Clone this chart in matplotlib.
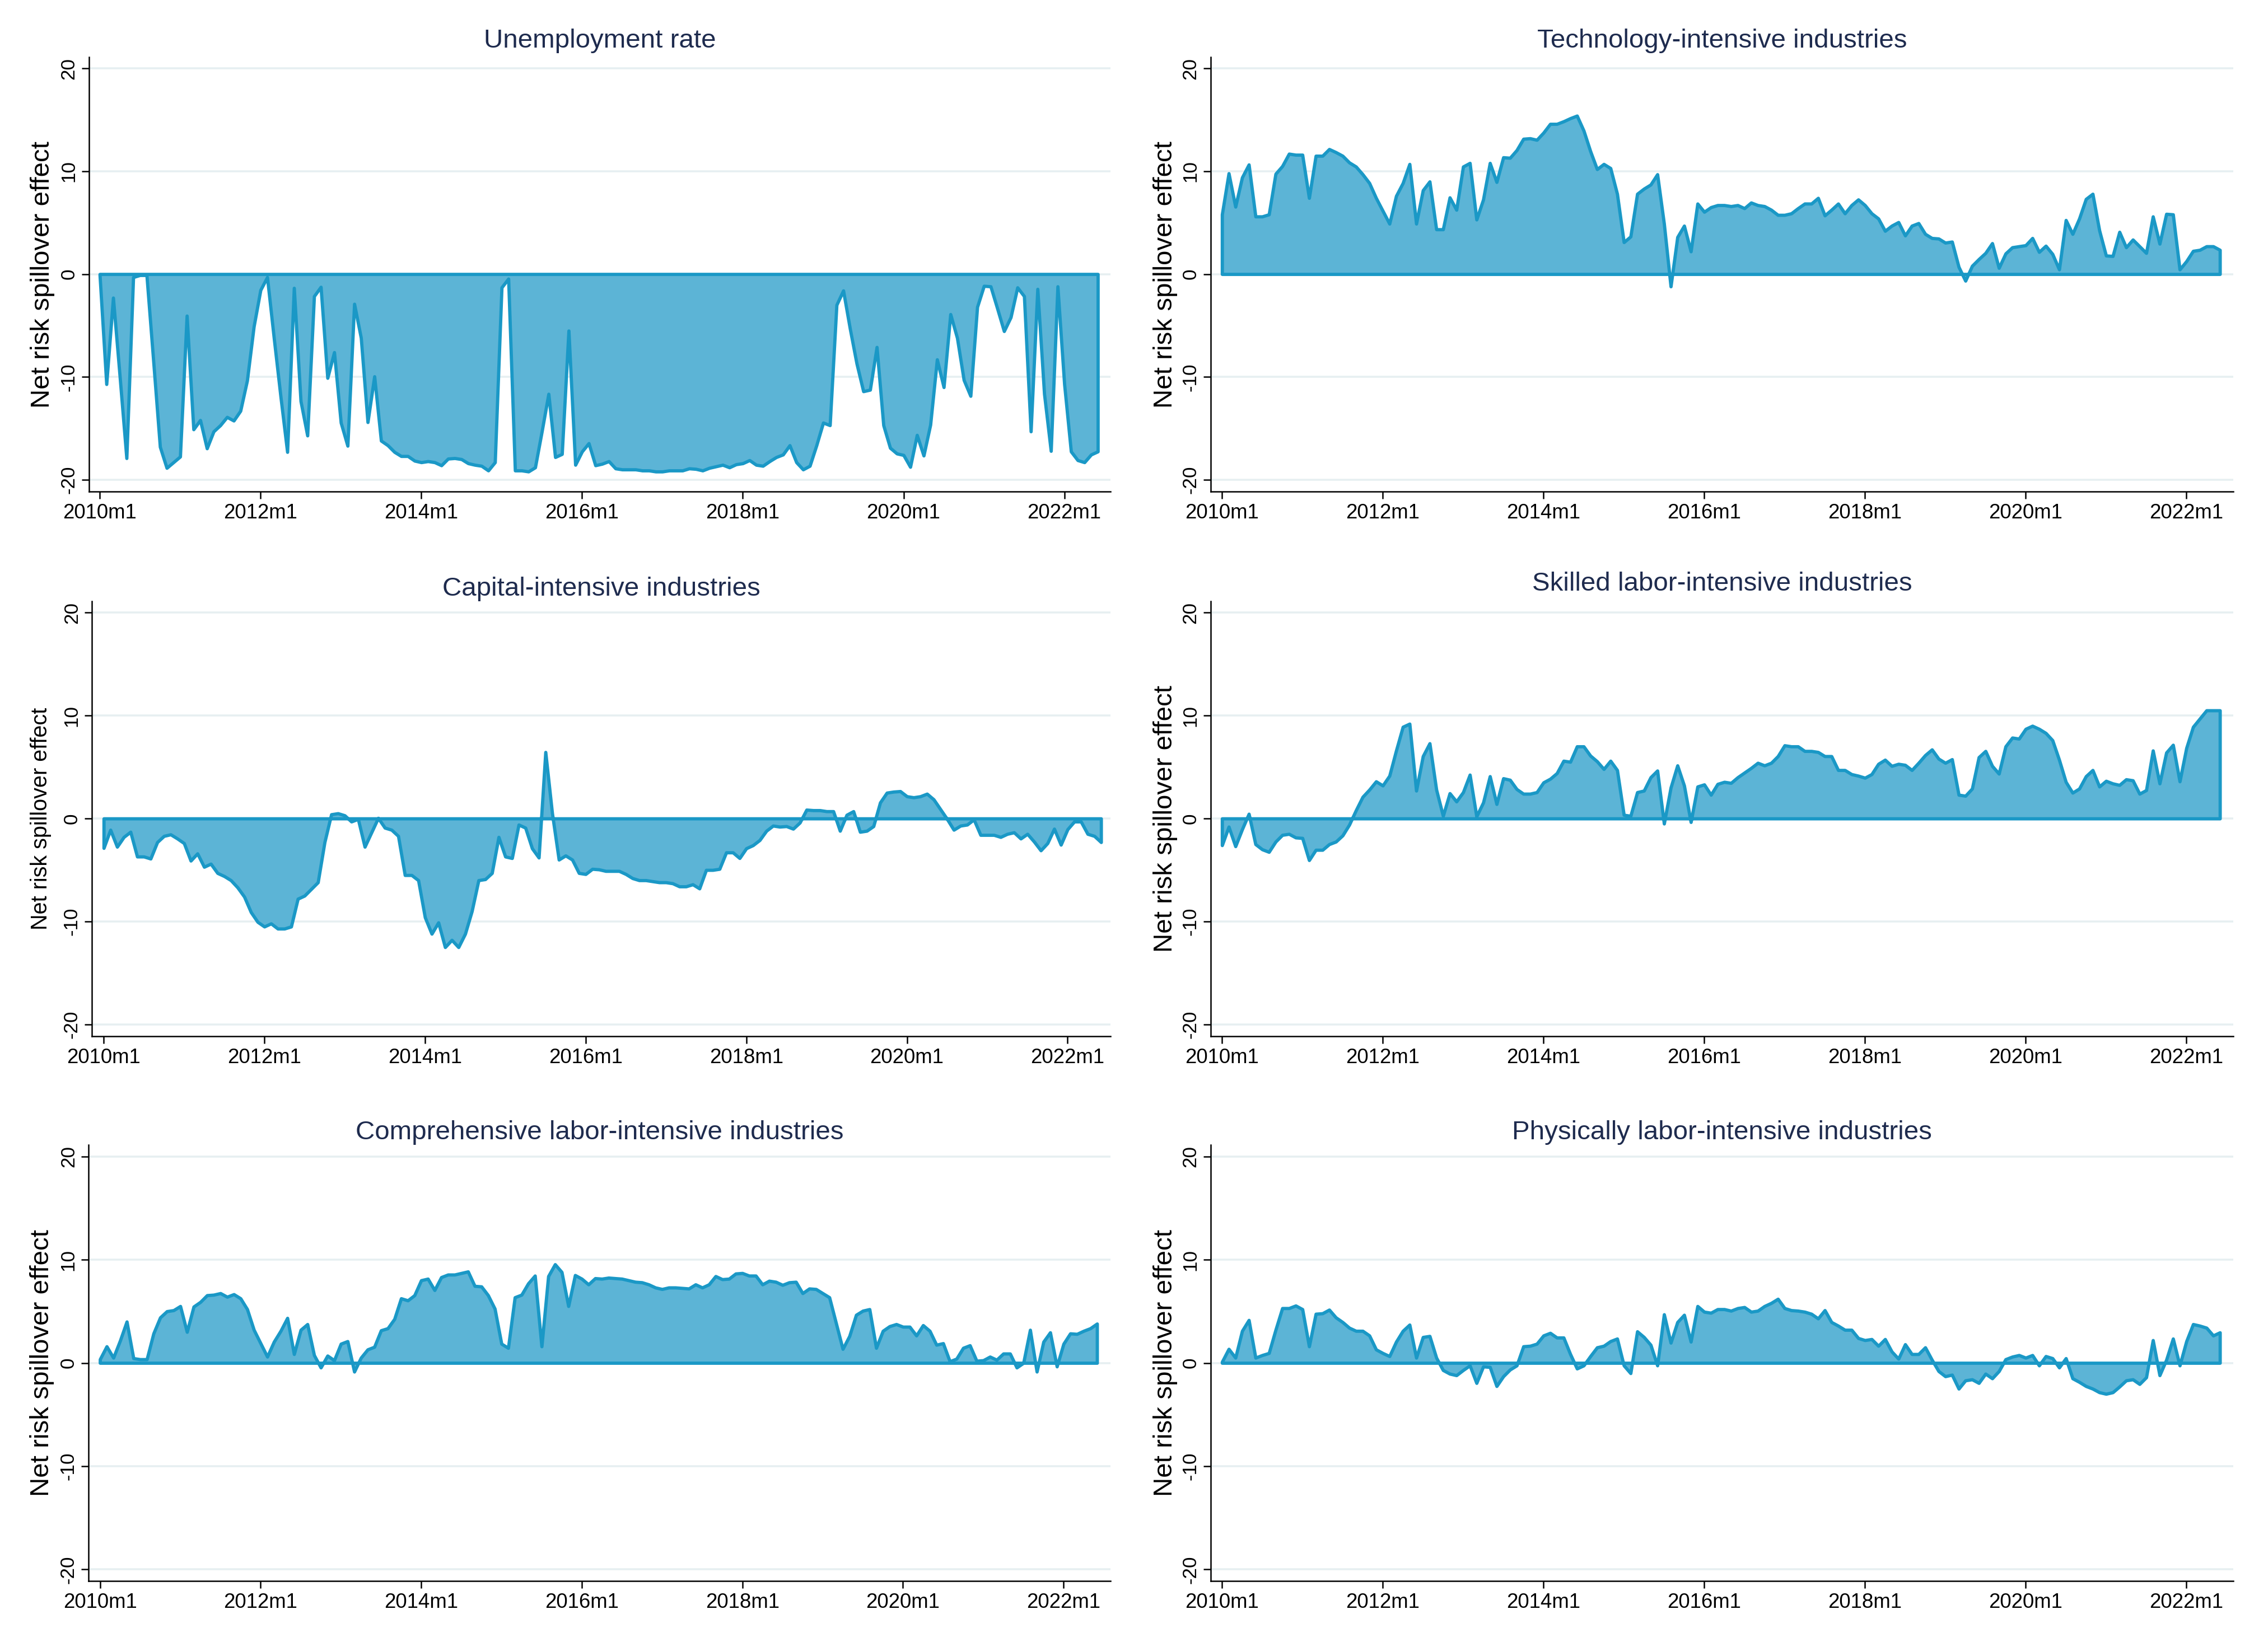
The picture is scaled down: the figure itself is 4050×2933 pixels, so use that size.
import matplotlib
matplotlib.use("Agg")
import matplotlib.pyplot as plt
import numpy as np

plt.rcParams['font.family'] = ['Liberation Sans', 'DejaVu Sans']

# ---------------- data (monthly, 2010m1 .. 2022m6) ----------------
tick_labels = ["2010m1", "2012m1", "2014m1", "2016m1", "2018m1", "2020m1", "2022m1"]
tick_pos = [0, 24, 48, 72, 96, 120, 144]
yticks = [-20, -10, 0, 10, 20]

titles = ["Unemployment rate",
          "Technology-intensive industries",
          "Capital-intensive industries",
          "Skilled labor-intensive industries",
          "Comprehensive labor-intensive industries",
          "Physically labor-intensive industries"]

unemployment = [
    -0.1, -10.7, -2.3, -10.0, -17.9, -0.3, -0.1, -0.1, -8.4, -16.8,
    -18.85, -18.3, -17.75, -4.05, -15.1, -14.2, -16.95, -15.3, -14.7, -13.9,
    -14.25, -13.3, -10.35, -5.1, -1.55, -0.3, -6.2, -11.9, -17.3, -1.35,
    -12.35, -15.7, -2.15, -1.25, -10.1, -7.6, -14.45, -16.7, -2.9, -6.2,
    -14.4, -9.95, -16.2, -16.65, -17.3, -17.7, -17.7, -18.15, -18.3, -18.2,
    -18.3, -18.6, -17.95, -17.9, -18.0, -18.4, -18.55, -18.65, -19.1, -18.3,
    -1.3, -0.45, -19.1, -19.1, -19.2, -18.8, -15.3, -11.65, -17.8, -17.5,
    -5.5, -18.55, -17.25, -16.45, -18.6, -18.45, -18.2, -18.9, -19.0, -19.0,
    -19.0, -19.1, -19.1, -19.2, -19.2, -19.1, -19.1, -19.1, -18.9, -18.95,
    -19.1, -18.85, -18.7, -18.55, -18.8, -18.5, -18.4, -18.1, -18.55, -18.65,
    -18.2, -17.8, -17.55, -16.65, -18.3, -19.0, -18.65, -16.65, -14.45, -14.7,
    -3.0, -1.6, -5.3, -8.7, -11.4, -11.25, -7.1, -14.7, -16.9, -17.45,
    -17.6, -18.75, -15.65, -17.65, -14.65, -8.3, -11.0, -3.9, -6.2, -10.3,
    -11.85, -3.2, -1.15, -1.2, -3.35, -5.55, -4.2, -1.3, -2.15, -15.3,
    -1.45, -11.65, -17.2, -1.2, -10.7, -17.25, -18.1, -18.3, -17.55, -17.25]

technology = [
    5.8, 9.8, 6.55, 9.4, 10.65, 5.6, 5.6, 5.8, 9.75, 10.5,
    11.7, 11.6, 11.6, 7.4, 11.5, 11.5, 12.15, 11.85, 11.5, 10.85,
    10.45, 9.7, 8.85, 7.4, 6.15, 4.9, 7.6, 8.85, 10.7, 4.9,
    8.15, 9.0, 4.35, 4.35, 7.45, 6.25, 10.45, 10.8, 5.3, 7.25,
    10.8, 8.95, 11.35, 11.3, 12.05, 13.15, 13.2, 13.05, 13.75, 14.6,
    14.6, 14.85, 15.15, 15.4, 13.95, 11.95, 10.2, 10.7, 10.3, 7.8,
    3.1, 3.65, 7.8, 8.3, 8.7, 9.7, 4.9, -1.2, 3.6, 4.7,
    2.2, 6.85, 6.05, 6.5, 6.7, 6.7, 6.6, 6.7, 6.4, 6.95,
    6.7, 6.6, 6.25, 5.75, 5.75, 5.9, 6.4, 6.85, 6.85, 7.4,
    5.7, 6.25, 6.85, 5.9, 6.7, 7.25, 6.7, 5.9, 5.4, 4.2,
    4.7, 5.05, 3.75, 4.7, 4.95, 3.9, 3.5, 3.45, 3.05, 3.15,
    0.7, -0.65, 0.8, 1.45, 2.05, 3.0, 0.6, 2.0, 2.6, 2.7,
    2.8, 3.5, 2.15, 2.75, 1.95, 0.45, 5.25, 3.9, 5.4, 7.3,
    7.8, 4.25, 1.8, 1.75, 4.1, 2.6, 3.35, 2.7, 2.05, 5.6,
    2.95, 5.85, 5.8, 0.45, 1.25, 2.25, 2.35, 2.7, 2.7, 2.35]

capital = [
    -2.87, -1.1, -2.75, -1.8, -1.3, -3.7, -3.7, -3.9, -2.3, -1.7,
    -1.55, -1.95, -2.4, -4.1, -3.4, -4.7, -4.4, -5.3, -5.6, -6.0,
    -6.7, -7.6, -9.1, -10.05, -10.5, -10.2, -10.7, -10.7, -10.5, -7.8,
    -7.5, -6.85, -6.2, -2.3, 0.4, 0.5, 0.3, -0.3, -0.05, -2.75,
    -1.35, 0.05, -0.9, -1.1, -1.7, -5.5, -5.5, -6.0, -9.6, -11.2,
    -10.1, -12.5, -11.8, -12.5, -11.2, -9.0, -6.0, -5.9, -5.3, -1.8,
    -3.7, -3.85, -0.6, -0.9, -2.9, -3.8, 6.45, 0.5, -4.0, -3.6,
    -4.0, -5.3, -5.4, -4.9, -4.95, -5.1, -5.1, -5.1, -5.4, -5.8,
    -6.0, -6.0, -6.1, -6.2, -6.2, -6.3, -6.6, -6.6, -6.4, -6.8,
    -5.0, -5.0, -4.9, -3.3, -3.3, -3.85, -2.9, -2.6, -2.1, -1.2,
    -0.7, -0.8, -0.75, -1.0, -0.4, 0.85, 0.8, 0.8, 0.7, 0.7,
    -1.2, 0.35, 0.7, -1.3, -1.2, -0.75, 1.55, 2.5, 2.6, 2.65,
    2.15, 2.05, 2.15, 2.4, 1.85, 0.9, -0.05, -1.1, -0.7, -0.6,
    -0.1, -1.6, -1.6, -1.6, -1.8, -1.5, -1.35, -1.95, -1.5, -2.25,
    -3.1, -2.4, -1.0, -2.55, -1.05, -0.3, -0.3, -1.5, -1.7, -2.3]

skilled = [
    -2.6, -0.8, -2.7, -1.05, 0.45, -2.5, -3.0, -3.25, -2.25, -1.6,
    -1.5, -1.85, -1.9, -4.05, -3.05, -3.05, -2.5, -2.25, -1.65, -0.6,
    0.8, 2.1, 2.8, 3.6, 3.2, 4.15, 6.6, 8.9, 9.2, 2.7,
    6.05, 7.3, 2.8, 0.25, 2.45, 1.65, 2.55, 4.25, 0.2, 1.55,
    4.1, 1.4, 3.9, 3.75, 2.85, 2.4, 2.4, 2.55, 3.5, 3.85,
    4.4, 5.6, 5.5, 7.0, 7.0, 6.1, 5.55, 4.8, 5.6, 4.7,
    0.35, 0.25, 2.55, 2.7, 4.0, 4.65, -0.5, 3.0, 5.15, 3.2,
    -0.35, 3.1, 3.3, 2.3, 3.35, 3.55, 3.45, 4.0, 4.45, 4.9,
    5.4, 5.15, 5.4, 6.05, 7.1, 7.0, 7.0, 6.55, 6.55, 6.45,
    6.05, 6.05, 4.7, 4.7, 4.3, 4.15, 3.95, 4.3, 5.3, 5.7,
    5.1, 5.3, 5.2, 4.7, 5.4, 6.15, 6.7, 5.8, 5.4, 5.75,
    2.3, 2.2, 2.9, 5.95, 6.55, 5.1, 4.35, 7.0, 7.85, 7.75,
    8.7, 9.0, 8.7, 8.3, 7.6, 5.7, 3.55, 2.5, 2.9, 4.1,
    4.7, 3.1, 3.65, 3.4, 3.25, 3.8, 3.7, 2.4, 2.75, 6.6,
    3.4, 6.4, 7.15, 3.6, 6.85, 8.9, 9.7, 10.5, 10.5, 10.5]

comprehensive = [
    0.35, 1.6, 0.5, 2.15, 4.0, 0.45, 0.35, 0.35, 2.85, 4.4,
    5.0, 5.1, 5.5, 3.0, 5.45, 5.9, 6.55, 6.6, 6.75, 6.4,
    6.65, 6.25, 5.2, 3.2, 1.9, 0.6, 2.05, 3.1, 4.35, 0.85,
    3.2, 3.75, 0.75, -0.45, 0.7, 0.25, 1.85, 2.1, -0.85, 0.5,
    1.3, 1.55, 3.15, 3.35, 4.25, 6.25, 6.05, 6.55, 8.0, 8.15,
    7.05, 8.3, 8.55, 8.55, 8.7, 8.85, 7.45, 7.4, 6.55, 5.25,
    1.85, 1.45, 6.35, 6.6, 7.7, 8.45, 1.6, 8.4, 9.55, 8.8,
    5.5, 8.5, 8.15, 7.6, 8.2, 8.15, 8.25, 8.2, 8.15, 8.0,
    7.85, 7.8, 7.6, 7.3, 7.15, 7.3, 7.3, 7.25, 7.2, 7.6,
    7.3, 7.6, 8.4, 8.1, 8.15, 8.65, 8.7, 8.45, 8.45, 7.6,
    7.95, 7.85, 7.55, 7.8, 7.85, 6.75, 7.2, 7.15, 6.75, 6.35,
    3.85, 1.35, 2.6, 4.65, 5.05, 5.2, 1.45, 3.1, 3.55, 3.75,
    3.5, 3.5, 2.65, 3.65, 3.1, 1.75, 1.9, 0.15, 0.4, 1.45,
    1.7, 0.2, 0.25, 0.6, 0.3, 0.9, 0.9, -0.45, 0.0, 3.2,
    -0.85, 2.05, 2.95, -0.35, 1.85, 2.85, 2.8, 3.1, 3.35, 3.8]

physical = [
    0.1, 1.35, 0.5, 3.1, 4.15, 0.5, 0.75, 0.95, 3.2, 5.3,
    5.3, 5.55, 5.2, 1.6, 4.75, 4.8, 5.15, 4.4, 3.95, 3.4,
    3.1, 3.1, 2.65, 1.3, 0.95, 0.65, 2.05, 3.1, 3.7, 0.5,
    2.5, 2.6, 0.5, -0.7, -1.05, -1.2, -0.7, -0.25, -1.95, -0.35,
    -0.4, -2.25, -1.3, -0.65, -0.25, 1.6, 1.65, 1.85, 2.65, 2.9,
    2.45, 2.45, 0.85, -0.55, -0.25, 0.65, 1.5, 1.65, 2.1, 2.35,
    -0.25, -1.0, 3.05, 2.5, 1.75, -0.25, 4.7, 1.95, 3.95, 4.65,
    2.05, 5.5, 4.95, 4.85, 5.2, 5.2, 5.05, 5.3, 5.4, 4.95,
    5.05, 5.5, 5.8, 6.2, 5.3, 5.1, 5.05, 4.95, 4.75, 4.3,
    5.1, 3.95, 3.6, 3.2, 3.2, 2.4, 2.2, 2.3, 1.65, 2.3,
    1.1, 0.4, 1.8, 0.85, 0.85, 1.5, 0.3, -0.8, -1.3, -1.15,
    -2.5, -1.7, -1.6, -1.95, -1.05, -1.5, -0.8, 0.35, 0.6, 0.75,
    0.5, 0.75, -0.25, 0.65, 0.45, -0.45, 0.45, -1.5, -1.85, -2.25,
    -2.5, -2.85, -3.0, -2.85, -2.3, -1.7, -1.6, -2.05, -1.4, 2.2,
    -1.2, 0.3, 2.35, -0.25, 2.1, 3.75, 3.6, 3.4, 2.65, 2.95]

series = [unemployment, technology, capital, skilled, comprehensive, physical]

# ---------------- style ----------------
FILL = '#5CB4D6'
EDGE = '#1A98C6'
GRID = '#E6EFF1'
TITLE_C = '#1E2B4E'

W, H = 4050, 2933
fig = plt.figure(figsize=(W / 300, H / 300), dpi=300)
fig.patch.set_facecolor('white')

positions = [
    [0.03926, 0.7006, 0.4504, 0.2646],
    [0.5338, 0.7006, 0.4509, 0.2646],
    [0.0406, 0.3689, 0.4490, 0.2649],
    [0.5338, 0.3689, 0.4509, 0.2649],
    [0.0391, 0.0370, 0.4505, 0.2656],
    [0.5338, 0.0370, 0.4509, 0.2656],
]
xlims = [(-1.6, 150.9), (-1.7, 151.0), (-1.74, 150.4),
         (-1.7, 151.0), (-1.69, 151.0), (-1.7, 151.0)]
title_pads = [4.0, 4.0, 2.5, 4.5, 2.0, 2.0]
ylabel_size = [11.4, 11.4, 9.5, 11.4, 11.4, 11.4]
ylabel_x = [-0.0334, -0.0323, -0.040, -0.0323, -0.0334, -0.0323]

for k, vals in enumerate(series):
    ax = fig.add_axes(positions[k])
    x = np.arange(len(vals))
    y = np.array(vals)
    for yt in yticks:
        ax.axhline(yt, color=GRID, lw=0.85, zorder=0.5)
    ax.fill_between(x, y, 0, facecolor=FILL, edgecolor=EDGE, linewidth=1.4,
                    zorder=2, joinstyle='round')
    ax.set_xlim(*xlims[k])
    ax.set_ylim(-21.15, 21.1)
    ax.set_xticks(tick_pos)
    ax.set_xticklabels(tick_labels)
    ax.set_yticks(yticks)
    ax.set_yticklabels([str(v) for v in yticks])
    for lab in ax.get_yticklabels():
        lab.set_rotation(90)
        lab.set_va('center')
        lab.set_ha('right')
    ax.tick_params(axis='x', labelsize=8.8, length=3.0, width=0.6, pad=2.0,
                   colors='black')
    ax.tick_params(axis='y', labelsize=8.4, length=3.2, width=0.6, pad=1.5,
                   colors='black')
    for s in ['top', 'right']:
        ax.spines[s].set_visible(False)
    for s in ['left', 'bottom']:
        ax.spines[s].set_linewidth(0.6)
        ax.spines[s].set_color('black')
    ax.set_title(titles[k], fontsize=11.4, color=TITLE_C, pad=title_pads[k])
    ax.set_ylabel("Net risk spillover effect", fontsize=ylabel_size[k],
                  color='black')
    ax.yaxis.set_label_coords(ylabel_x[k], 0.5)

fig.savefig("out.png", dpi=300, facecolor='white')
